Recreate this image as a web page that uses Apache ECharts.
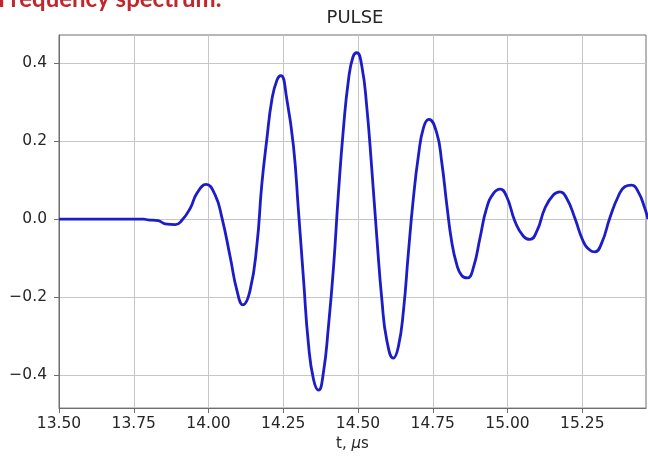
<!DOCTYPE html>
<html>
<head>
<meta charset="utf-8">
<script src="https://cdn.jsdelivr.net/npm/echarts@6/dist/echarts.min.js"></script>
<style>html,body{margin:0;padding:0;background:#fff;}#c{width:648px;height:457px;}</style>
</head>
<body>
<div id="c"></div>
<script>
// Time (µs) sampled along the pulse
const tValues = [
  13.500, 13.600, 13.700, 13.738, 13.783, 13.798, 13.832, 13.855, 13.889, 13.911,
  13.939, 13.961, 13.992, 14.022, 14.045, 14.073, 14.095, 14.115, 14.139, 14.162,
  14.178, 14.195, 14.212, 14.229, 14.242, 14.262, 14.284, 14.301, 14.318, 14.334,
  14.351, 14.368, 14.384, 14.401, 14.418, 14.434, 14.451, 14.468, 14.483, 14.496,
  14.513, 14.529, 14.546, 14.563, 14.580, 14.596, 14.618, 14.635, 14.652, 14.668,
  14.685, 14.702, 14.719, 14.737, 14.763, 14.780, 14.797, 14.813, 14.830, 14.847,
  14.866, 14.886, 14.908, 14.930, 14.953, 14.975, 14.997, 15.025, 15.053, 15.075,
  15.098, 15.125, 15.153, 15.175, 15.198, 15.225, 15.253, 15.276, 15.292, 15.315,
  15.342, 15.370, 15.392, 15.415, 15.437, 15.459, 15.470
];
// Pulse amplitude
const yValues = [
  0.000, 0.000, 0.000, 0.000, 0.000, -0.002, -0.004, -0.012, -0.014, -0.003,
  0.028, 0.066, 0.089, 0.062, 0.003, -0.099, -0.183, -0.220, -0.183, -0.065,
  0.087, 0.205, 0.307, 0.357, 0.368, 0.307, 0.188, 0.019, -0.158, -0.319,
  -0.411, -0.439, -0.395, -0.276, -0.124, 0.062, 0.231, 0.357, 0.416, 0.427,
  0.391, 0.290, 0.129, -0.048, -0.209, -0.310, -0.357, -0.327, -0.234, -0.090,
  0.053, 0.163, 0.235, 0.256, 0.222, 0.146, 0.036, -0.057, -0.116, -0.145,
  -0.151, -0.124, -0.048, 0.028, 0.066, 0.077, 0.058, -0.006, -0.044, -0.052,
  -0.031, 0.028, 0.062, 0.070, 0.053, 0.003, -0.057, -0.080, -0.084, -0.061,
  0.003, 0.058, 0.083, 0.087, 0.070, 0.028, 0.000
];
const xTicks = [13.50, 13.75, 14.00, 14.25, 14.50, 14.75, 15.00, 15.25];
const yTicks = [-0.4, -0.2, 0.0, 0.2, 0.4];

const chart = echarts.init(document.getElementById('c'), null, {renderer: 'canvas'});
const FONT = 'DejaVu Sans';
const minus = v => (v < 0 ? '\u2212' : '') + Math.abs(v).toFixed(1);

chart.setOption({
  animation: false,
  backgroundColor: '#ffffff',
  graphic: [
    {
      type: 'text', left: -2, top: -13, z: 10,
      style: {text: 'Frequency spectrum.', fill: '#c0272d', font: 'bold 24px Lato'}
    },
    {
      type: 'text', x: 355, y: 9, z: 10,
      style: {text: 'PULSE', fill: '#262626', font: '18px "DejaVu Sans"', textAlign: 'center'}
    }
  ],
  grid: {
    left: 59, right: 2, top: 35, bottom: 45,
    show: true, borderColor: '#6e6e6e', borderWidth: 1, backgroundColor: 'transparent'
  },
  xAxis: {
    type: 'value', min: 13.5, max: 15.463,
    name: 't, {i|\u03bc}s', nameLocation: 'middle', nameGap: 27,
    nameTextStyle: {color: '#262626', fontFamily: FONT, fontSize: 15,
      rich: {i: {fontStyle: 'italic', fontFamily: FONT, fontSize: 15, color: '#262626'}}},
    axisLine: {show: true, onZero: false, lineStyle: {color: '#6e6e6e', width: 1}},
    axisTick: {show: true, length: 5, customValues: xTicks, lineStyle: {color: '#6e6e6e'}},
    axisLabel: {customValues: xTicks, margin: 8, color: '#262626', fontFamily: FONT, fontSize: 15.5,
      formatter: v => v.toFixed(2)},
    splitLine: {show: true, lineStyle: {color: '#c6c6c6', width: 1}}
  },
  yAxis: {
    type: 'value', min: -0.485, max: 0.4725,
    axisLine: {show: true, onZero: false, lineStyle: {color: '#6e6e6e', width: 1}},
    axisTick: {show: true, length: 5, customValues: yTicks, lineStyle: {color: '#6e6e6e'}},
    axisLabel: {customValues: yTicks, margin: 12, color: '#262626', fontFamily: FONT, fontSize: 15.5,
      formatter: minus},
    splitLine: {show: true, lineStyle: {color: '#c6c6c6', width: 1}}
  },
  series: [{
    type: 'line',
    data: tValues.map((t, i) => [t, yValues[i]]),
    showSymbol: false,
    smooth: 0.5,
    clip: true,
    lineStyle: {color: '#1c1cc8', width: 2.8}
  }]
});
</script>
</body>
</html>
